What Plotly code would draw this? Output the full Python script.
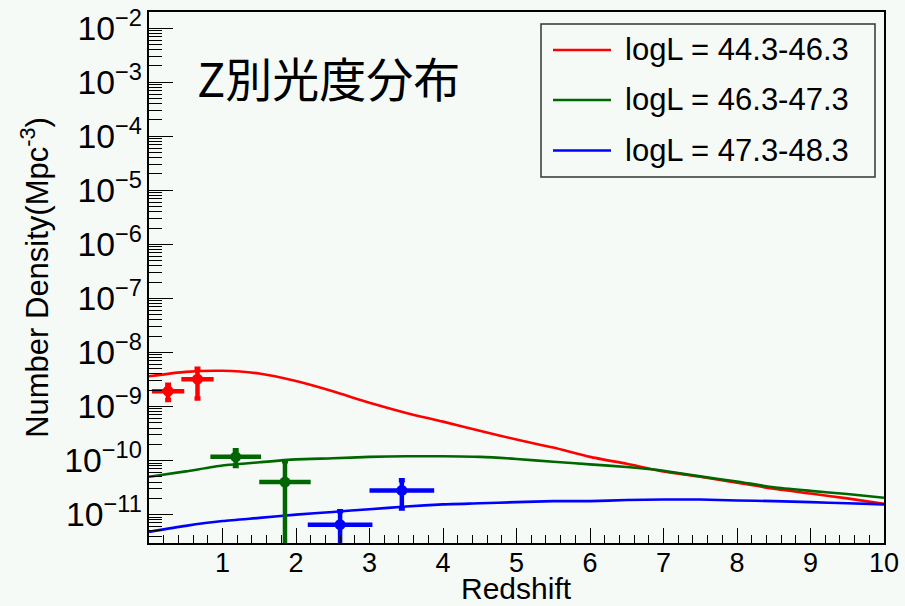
import plotly.graph_objects as go

# ---- model curves: number density vs redshift for three luminosity bins ----
z_grid = [0.0, 0.5, 1.0, 1.5, 2.0, 2.5, 3.0, 3.5, 4.0, 4.5, 5.0,
          5.5, 6.0, 6.5, 7.0, 7.5, 8.0, 8.5, 9.0, 9.5, 10.0]

model_low = [3.63e-9, 4.37e-9, 4.57e-9, 4.07e-9, 2.95e-9, 1.91e-9, 1.17e-9,
             7.6e-10, 5.25e-10, 3.55e-10, 2.45e-10, 1.74e-10, 1.17e-10,
             8.7e-11, 6.3e-11, 5.0e-11, 3.9e-11, 3.0e-11, 2.45e-11, 2.0e-11, 1.58e-11]

model_mid = [5.0e-11, 6.3e-11, 8.1e-11, 9.3e-11, 1.05e-10, 1.10e-10, 1.17e-10,
             1.20e-10, 1.20e-10, 1.17e-10, 1.07e-10, 9.5e-11, 8.5e-11,
             7.6e-11, 6.5e-11, 5.1e-11, 4.1e-11, 3.2e-11, 2.75e-11, 2.4e-11, 2.05e-11]

model_high = [4.8e-12, 6.2e-12, 7.6e-12, 8.7e-12, 1.0e-11, 1.12e-11, 1.26e-11,
              1.41e-11, 1.55e-11, 1.62e-11, 1.70e-11, 1.78e-11, 1.78e-11,
              1.86e-11, 1.90e-11, 1.90e-11, 1.82e-11, 1.78e-11, 1.70e-11, 1.62e-11, 1.55e-11]

# ---- measured densities with errors ----
obs_low_z = [0.26, 0.66]
obs_low_zerr = [0.22, 0.22]
obs_low_n = [1.92e-9, 3.2e-9]
obs_low_nerr = [0.6e-9, 1.8e-9]

obs_mid_z = [1.18, 1.85]
obs_mid_zerr = [0.345, 0.35]
obs_mid_n = [1.17e-10, 4.0e-11]
obs_mid_nerr = [0.38e-10, 5.7e-11]

obs_high_z = [2.6, 3.44]
obs_high_zerr = [0.44, 0.44]
obs_high_n = [6.5e-12, 2.8e-11]
obs_high_nerr = [5.0e-12, 1.5e-11]

labels = ["logL = 44.3-46.3", "logL = 46.3-47.3", "logL = 47.3-48.3"]
colors = ["#ff0000", "#006600", "#0000ff"]

x_ticks = [1, 2, 3, 4, 5, 6, 7, 8, 9, 10]

BG = "#f6faf7"
FONT = "Liberation Sans, Arial, sans-serif"

fig = go.Figure()

models = [model_low, model_mid, model_high]
obs = [
    (obs_low_z, obs_low_zerr, obs_low_n, obs_low_nerr),
    (obs_mid_z, obs_mid_zerr, obs_mid_n, obs_mid_nerr),
    (obs_high_z, obs_high_zerr, obs_high_n, obs_high_nerr),
]

for name, col, m in zip(labels, colors, models):
    fig.add_trace(go.Scatter(
        x=z_grid, y=m, mode="lines", name=name,
        line=dict(color=col, width=2.6, shape="spline", smoothing=0.6),
        showlegend=False, hoverinfo="skip",
    ))

for name, col, (zx, zxe, ny, nye) in zip(labels, colors, obs):
    fig.add_trace(go.Scatter(
        x=zx, y=ny, mode="markers", name=name,
        marker=dict(color=col, size=11, symbol="circle"),
        error_x=dict(type="data", array=zxe, color=col, thickness=4.5, width=0),
        error_y=dict(type="data", array=nye, color=col, thickness=4.5, width=3),
        showlegend=False,
    ))

# ---- hand-built legend box in the upper right ----
def px_x(p):
    return (p - 149) / 735.0

def px_y(p):
    return (543 - p) / 531.0

fig.add_shape(type="rect", xref="paper", yref="paper",
              x0=px_x(541), x1=px_x(875), y0=px_y(177), y1=px_y(24),
              line=dict(color="#333333", width=1.5), fillcolor=BG, layer="above")

entry_y = [50, 100, 150.5]
for lab, col, ey in zip(labels, colors, entry_y):
    fig.add_shape(type="line", xref="paper", yref="paper",
                  x0=px_x(553), x1=px_x(611), y0=px_y(ey), y1=px_y(ey),
                  line=dict(color=col, width=2.6), layer="above")
    fig.add_annotation(xref="paper", yref="paper", x=px_x(623), y=px_y(ey),
                       text=lab, showarrow=False, xanchor="left", yanchor="middle",
                       font=dict(family=FONT, size=31, color="black"))

# ---- title text inside the frame ----
fig.add_annotation(xref="paper", yref="paper", x=px_x(195), y=px_y(77),
                   text="Z別光度分布", showarrow=False, xanchor="left", yanchor="middle",
                   font=dict(family="Noto Sans CJK JP, sans-serif", size=47, color="black"))

# ---- x-axis title placed just below the tick labels ----
fig.add_annotation(xref="paper", yref="paper", x=0.5, y=px_y(588),
                   text="Redshift", showarrow=False, xanchor="center", yanchor="middle",
                   borderpad=0,
                   font=dict(family=FONT, size=30, color="black"))

fig.update_xaxes(
    range=[0, 10], tickmode="array", tickvals=x_ticks,
    ticks="inside", ticklen=15, tickwidth=1.3, tickcolor="black",
    minor=dict(ticks="inside", ticklen=8, tickwidth=1.3, tickcolor="black", dtick=0.2, tick0=0,
               showgrid=False),
    showline=True, linecolor="black", linewidth=1.5, mirror=True,
    showgrid=False, zeroline=False, automargin=False,
    ticklabelstandoff=-5,
    tickfont=dict(family=FONT, size=27, color="black"),
)

fig.update_yaxes(
    type="log", range=[-11.525, -1.703],
    tickmode="linear", tick0=0, dtick=1, exponentformat="power",
    ticks="inside", ticklen=24, tickwidth=1.3, tickcolor="black",
    minor=dict(ticks="inside", ticklen=13, tickwidth=1.3, tickcolor="black", dtick="D1",
               showgrid=False),
    showline=True, linecolor="black", linewidth=1.5, mirror=True,
    showgrid=False, zeroline=False, automargin=False,
    tickfont=dict(family=FONT, size=27, color="black"),
    title=dict(text="Number Density(Mpc<sup>-3</sup>)",
               font=dict(family=FONT, size=31, color="black"), standoff=6),
)

fig.update_layout(
    width=905, height=606,
    margin=dict(l=149, r=21, t=12, b=63),
    paper_bgcolor=BG, plot_bgcolor=BG,
    showlegend=False,
)

fig.write_html("out.html")
